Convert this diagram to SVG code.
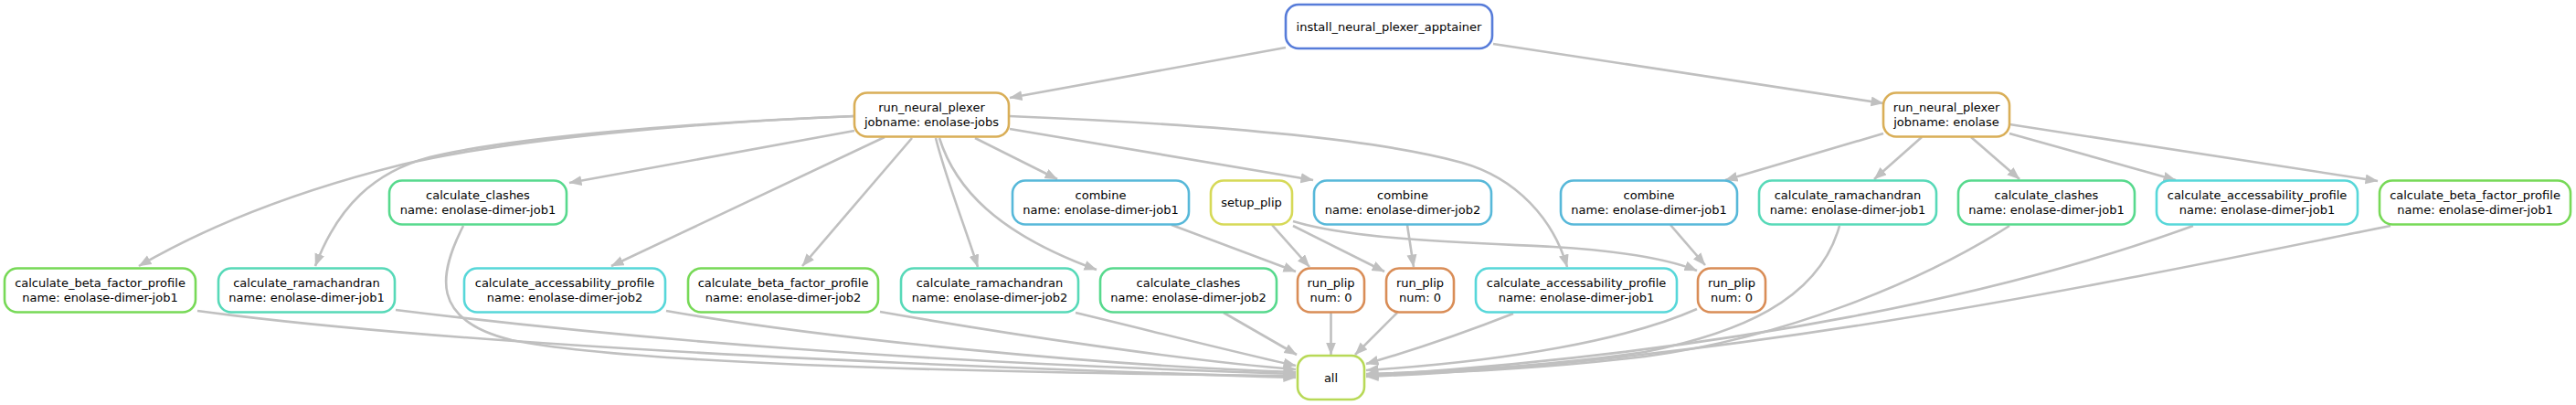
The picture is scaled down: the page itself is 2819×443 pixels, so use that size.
<svg xmlns="http://www.w3.org/2000/svg" width="2819" height="443" viewBox="0 0 2819 443">
<style>
.n rect{fill:#fff;stroke-width:2.6}
.n text{font-family:"DejaVu Sans",sans-serif;font-size:13px;fill:#000;text-anchor:middle}
.e path{fill:none;stroke:#c0c0c0;stroke-width:2.6;marker-end:url(#arr)}
.c-inst rect{stroke:#577cd9}
.c-rnp rect{stroke:#d9ae57}
.c-comb rect{stroke:#57b8d9}
.c-setup rect{stroke:#d6d957}
.c-plip rect{stroke:#d98d57}
.c-clash rect{stroke:#57d98d}
.c-rama rect{stroke:#57d9b8}
.c-acc rect{stroke:#57d7d9}
.c-beta rect{stroke:#77d957}
.c-all rect{stroke:#b8d957}
</style>
<defs>
<marker id="arr" markerUnits="userSpaceOnUse" markerWidth="15" markerHeight="12" refX="13.5" refY="5.5" orient="auto" viewBox="0 0 15 12">
<path d="M0,0 L14,5.5 L0,11 z" fill="#c0c0c0"/>
</marker>
</defs>
<rect width="2819" height="443" fill="#fff"/>
<g id="edges" class="e">
<path d="M1407,52 L1105,107"/>
<path d="M1634,48 L2061,113"/>
<path d="M935,127 C760,134 560,152 440,180 C340,205 240,240 152,291"/>
<path d="M935,127 C760,134 560,150 470,172 C410,188 370,225 345,291"/>
<path d="M935,143 L623,200"/>
<path d="M968,150 L669,291"/>
<path d="M998,151 L878,291"/>
<path d="M1024,151 C1035,195 1055,245 1070,292"/>
<path d="M1028,151 C1045,205 1090,255 1200,295"/>
<path d="M1067,151 L1157,196"/>
<path d="M1105,141 L1437,197"/>
<path d="M1104,127 C1300,135 1500,150 1600,178 C1660,195 1700,240 1715,292"/>
<path d="M2061,146 L1888,197"/>
<path d="M2103,150 L2051,196"/>
<path d="M2157,150 L2210,196"/>
<path d="M2199,146 L2381,197"/>
<path d="M2199,136 L2602,198"/>
<path d="M1282,246 L1418,297"/>
<path d="M1392,246 L1433,292"/>
<path d="M1415,247 L1515,297"/>
<path d="M1415,242 C1480,262 1600,265 1700,270 C1780,275 1830,285 1857,296"/>
<path d="M1540,246 L1547,292"/>
<path d="M1828,246 L1866,290"/>
<path d="M216,340 C500,378 1000,400 1418,413"/>
<path d="M433,339 C700,372 1000,396 1418,409"/>
<path d="M507,247 C480,300 470,350 560,372 C700,400 1100,408 1418,411"/>
<path d="M729,340 C900,370 1200,400 1418,407"/>
<path d="M963,341 C1100,365 1300,395 1418,404"/>
<path d="M1177,342 C1260,362 1350,385 1418,400"/>
<path d="M1339,342 L1419,388"/>
<path d="M1456.5,342 L1456.5,388"/>
<path d="M1529,342 L1483,388"/>
<path d="M1656,343 C1600,365 1540,385 1495,398"/>
<path d="M1857,338 C1780,372 1650,395 1495,405"/>
<path d="M2013,247 C1990,330 1900,365 1800,385 C1700,400 1600,406 1495,409"/>
<path d="M2199,247 C2100,310 1950,370 1800,390 C1700,402 1600,408 1495,410"/>
<path d="M2400,247 C2200,320 1900,385 1495,411"/>
<path d="M2616,247 C2300,311 1900,395 1495,412"/>
</g>
<g id="install_neural_plexer_apptainer" class="n c-inst"><rect x="1407" y="5" width="226" height="48" rx="14"/><text x="1520" y="33.5">install_neural_plexer_apptainer</text></g>
<g id="run_neural_plexer_jobs" class="n c-rnp"><rect x="935" y="101.5" width="169" height="48" rx="14"/><text x="1019.5" y="122">run_neural_plexer</text><text x="1019.5" y="138">jobname: enolase-jobs</text></g>
<g id="run_neural_plexer_enolase" class="n c-rnp"><rect x="2061" y="101.5" width="138" height="48" rx="14"/><text x="2130" y="122">run_neural_plexer</text><text x="2130" y="138">jobname: enolase</text></g>
<g id="calculate_clashes_j1_left" class="n c-clash"><rect x="426" y="197.5" width="194" height="48" rx="14"/><text x="523" y="218">calculate_clashes</text><text x="523" y="234">name: enolase-dimer-job1</text></g>
<g id="combine_j1_left" class="n c-comb"><rect x="1108" y="197.5" width="193" height="48" rx="14"/><text x="1204.5" y="218">combine</text><text x="1204.5" y="234">name: enolase-dimer-job1</text></g>
<g id="setup_plip" class="n c-setup"><rect x="1325" y="197.5" width="89" height="48" rx="14"/><text x="1369.5" y="226">setup_plip</text></g>
<g id="combine_j2" class="n c-comb"><rect x="1438" y="197.5" width="194" height="48" rx="14"/><text x="1535" y="218">combine</text><text x="1535" y="234">name: enolase-dimer-job2</text></g>
<g id="combine_j1_right" class="n c-comb"><rect x="1708" y="197.5" width="193" height="48" rx="14"/><text x="1804.5" y="218">combine</text><text x="1804.5" y="234">name: enolase-dimer-job1</text></g>
<g id="calculate_ramachandran_j1_right" class="n c-rama"><rect x="1925" y="197.5" width="194" height="48" rx="14"/><text x="2022" y="218">calculate_ramachandran</text><text x="2022" y="234">name: enolase-dimer-job1</text></g>
<g id="calculate_clashes_j1_right" class="n c-clash"><rect x="2143" y="197.5" width="193" height="48" rx="14"/><text x="2239.5" y="218">calculate_clashes</text><text x="2239.5" y="234">name: enolase-dimer-job1</text></g>
<g id="calculate_accessability_profile_j1_right" class="n c-acc"><rect x="2360" y="197.5" width="220" height="48" rx="14"/><text x="2470" y="218">calculate_accessability_profile</text><text x="2470" y="234">name: enolase-dimer-job1</text></g>
<g id="calculate_beta_factor_profile_j1_right" class="n c-beta"><rect x="2604" y="197.5" width="209" height="48" rx="14"/><text x="2708.5" y="218">calculate_beta_factor_profile</text><text x="2708.5" y="234">name: enolase-dimer-job1</text></g>
<g id="calculate_beta_factor_profile_j1_left" class="n c-beta"><rect x="5" y="293.5" width="209" height="48" rx="14"/><text x="109.5" y="314">calculate_beta_factor_profile</text><text x="109.5" y="330">name: enolase-dimer-job1</text></g>
<g id="calculate_ramachandran_j1_left" class="n c-rama"><rect x="239" y="293.5" width="193" height="48" rx="14"/><text x="335.5" y="314">calculate_ramachandran</text><text x="335.5" y="330">name: enolase-dimer-job1</text></g>
<g id="calculate_accessability_profile_j2" class="n c-acc"><rect x="508" y="293.5" width="220" height="48" rx="14"/><text x="618" y="314">calculate_accessability_profile</text><text x="618" y="330">name: enolase-dimer-job2</text></g>
<g id="calculate_beta_factor_profile_j2" class="n c-beta"><rect x="753" y="293.5" width="208" height="48" rx="14"/><text x="857" y="314">calculate_beta_factor_profile</text><text x="857" y="330">name: enolase-dimer-job2</text></g>
<g id="calculate_ramachandran_j2" class="n c-rama"><rect x="986" y="293.5" width="194" height="48" rx="14"/><text x="1083" y="314">calculate_ramachandran</text><text x="1083" y="330">name: enolase-dimer-job2</text></g>
<g id="calculate_clashes_j2" class="n c-clash"><rect x="1204" y="293.5" width="193" height="48" rx="14"/><text x="1300.5" y="314">calculate_clashes</text><text x="1300.5" y="330">name: enolase-dimer-job2</text></g>
<g id="run_plip_1" class="n c-plip"><rect x="1420" y="293.5" width="73" height="48" rx="14"/><text x="1456.5" y="314">run_plip</text><text x="1456.5" y="330">num: 0</text></g>
<g id="run_plip_2" class="n c-plip"><rect x="1517" y="293.5" width="74" height="48" rx="14"/><text x="1554" y="314">run_plip</text><text x="1554" y="330">num: 0</text></g>
<g id="calculate_accessability_profile_j1_bottom" class="n c-acc"><rect x="1615" y="293.5" width="220" height="48" rx="14"/><text x="1725" y="314">calculate_accessability_profile</text><text x="1725" y="330">name: enolase-dimer-job1</text></g>
<g id="run_plip_3" class="n c-plip"><rect x="1858" y="293.5" width="74" height="48" rx="14"/><text x="1895" y="314">run_plip</text><text x="1895" y="330">num: 0</text></g>
<g id="all" class="n c-all"><rect x="1420" y="389" width="73" height="48" rx="14"/><text x="1456.5" y="417.5">all</text></g>
</svg>
